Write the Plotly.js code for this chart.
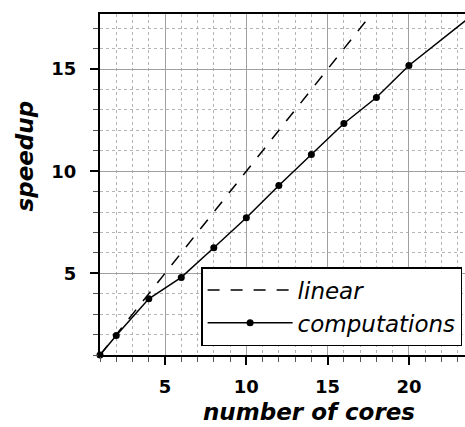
<!DOCTYPE html>
<html>
<head>
<meta charset="utf-8">
<script src="https://cdn.plot.ly/plotly-3.0.1.min.js"></script>
<style>html,body{margin:0;padding:0;background:#fff;}#chart{width:465px;height:427px;}</style>
</head>
<body>
<div id="chart"></div>
<script>
// Data
const coresComputations = [1, 2, 4, 6, 8, 10, 12, 14, 16, 18, 20, 24];
const speedupComputations = [1, 1.95, 3.75, 4.8, 6.25, 7.72, 9.3, 10.82, 12.34, 13.61, 15.18, 17.7];
const coresLinear = [1, 24];
const speedupLinear = [1, 24];
const xTickVals = [5, 10, 15, 20];
const yTickVals = [5, 10, 15];
const seriesNames = ['linear', 'computations'];
const xTitle = 'number of cores';
const yTitle = 'speedup';

const axisFont = {family: 'DejaVu Sans', size: 18, color: '#000', weight: 'bold'};
const titleFont = {family: 'DejaVu Sans', size: 23, color: '#000', weight: 'bold', style: 'italic'};

const traces = [
  {
    x: coresLinear, y: speedupLinear, name: seriesNames[0],
    type: 'scatter', mode: 'lines',
    line: {color: '#000', width: 1.5, dash: '12px,11px'}
  },
  {
    x: coresComputations, y: speedupComputations, name: seriesNames[1],
    type: 'scatter', mode: 'lines+markers',
    line: {color: '#000', width: 1.5},
    marker: {color: '#000', size: 7, symbol: 'circle'},
    cliponaxis: false
  }
];

const commonAxis = {
  showline: true, linecolor: '#000', linewidth: 2,
  ticks: 'outside', ticklen: 8, tickwidth: 2, tickcolor: '#000',
  showgrid: true, gridcolor: '#a0a0a0', gridwidth: 1,
  zeroline: false, tickfont: axisFont,
  minor: {dtick: 1, ticks: 'outside', ticklen: 5, tickwidth: 1, tickcolor: '#555',
          showgrid: true, gridcolor: '#b4b4b4', gridwidth: 1, griddash: 'dot'}
};

const layout = {
  width: 465, height: 427,
  margin: {l: 100, r: 0, t: 14, b: 72},
  paper_bgcolor: '#fff', plot_bgcolor: '#fff',
  showlegend: true,
  legend: {
    x: 0.277, y: 0.258, xanchor: 'left', yanchor: 'top',
    bgcolor: '#fff', bordercolor: '#000', borderwidth: 1.5,
    font: {family: 'DejaVu Sans', size: 23, color: '#000', style: 'italic'},
    itemwidth: 85, traceorder: 'normal'
  },
  xaxis: Object.assign({}, commonAxis, {
    range: [1, 23.45], tickvals: xTickVals, mirror: true,
    ticklabelstandoff: 6
  }),
  yaxis: Object.assign({}, commonAxis, {
    range: [1, 17.7], tickvals: yTickVals,
    ticklabelstandoff: 10
  }),
  annotations: [
    {text: xTitle, xref: 'paper', yref: 'paper', x: 0.5726, y: -0.167,
     xanchor: 'center', yanchor: 'middle', showarrow: false, font: titleFont},
    {text: yTitle, xref: 'paper', yref: 'paper', x: -0.2055, y: 0.585, textangle: -90,
     xanchor: 'center', yanchor: 'middle', showarrow: false, font: titleFont}
  ]
};

Plotly.newPlot('chart', traces, layout, {displayModeBar: false, staticPlot: true});
</script>
</body>
</html>
